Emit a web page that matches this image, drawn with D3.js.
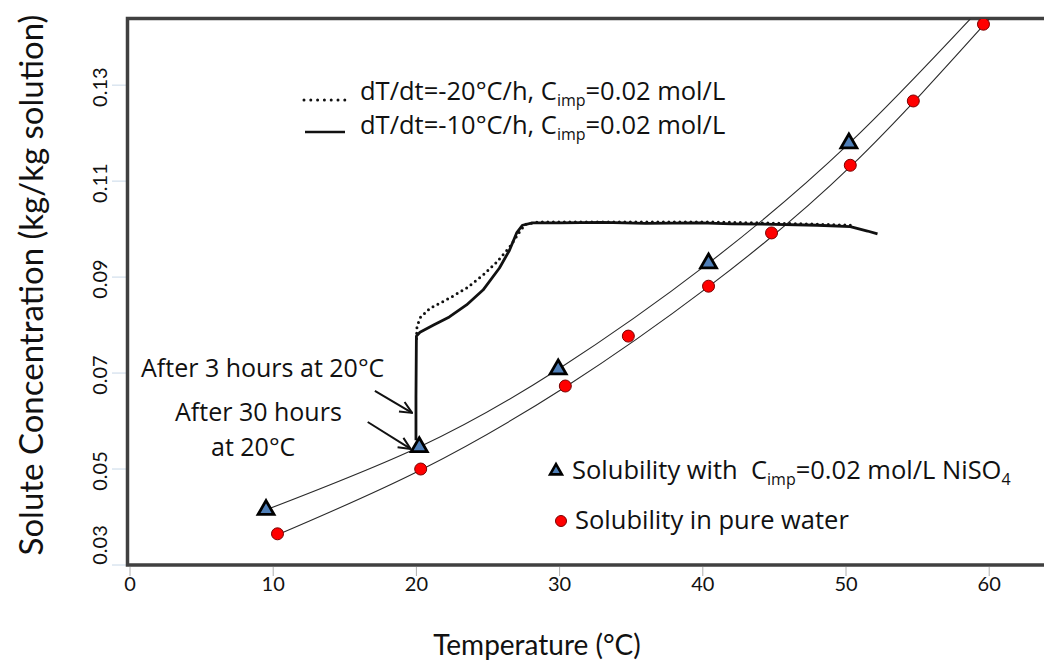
<!DOCTYPE html>
<html>
<head>
<meta charset="utf-8">
<script src="https://cdn.jsdelivr.net/npm/d3@7"></script>
<style>
  body { margin: 0; background: #fff; }
  svg { font-family: Lato, "Open Sans", sans-serif; }
  .os { font-family: "Open Sans", Lato, sans-serif; }
</style>
</head>
<body>
<main></main>
<script>
// axis ticks
const tempTicks = [0, 10, 20, 30, 40, 50, 60];
const concTicks = [0.03, 0.05, 0.07, 0.09, 0.11, 0.13];

// solubility in pure water (red circles)
const pureT = [10.3, 20.3, 30.4, 34.8, 40.4, 44.8, 50.3, 54.7, 59.6];
const pureC = [0.0365, 0.0500, 0.0673, 0.0777, 0.0881, 0.0992, 0.1133, 0.1267, 0.1427];

// solubility with Cimp = 0.02 mol/L NiSO4 (triangles)
const impT = [9.5, 20.2, 29.9, 40.4, 50.2];
const impC = [0.0417, 0.0548, 0.0710, 0.0931, 0.1181];

// fitted solubility curves
const fitImpT = [9.5, 20.2, 29.9, 40.4, 50.2, 58.9];
const fitImpC = [0.0415, 0.0546, 0.0708, 0.0929, 0.1178, 0.1445];
const fitPureT = [10.3, 20.3, 30.4, 40.4, 50.3, 60.3];
const fitPureC = [0.0363, 0.0498, 0.0671, 0.0880, 0.1130, 0.1448];

// concentration during cooling, -10 °C/h (solid)
const slowT = [52.2, 51.5, 50.3, 48, 45, 42, 39.8, 36, 33, 30.0, 28.1, 27.4, 27.0, 26.5, 25.8, 24.65, 23.5, 22.3, 21.2, 20.25, 20.0, 19.97, 19.97];
const slowC = [0.0990, 0.0996, 0.1005, 0.1008, 0.1010, 0.1011, 0.1013, 0.1012, 0.1014, 0.1013, 0.1013, 0.1008, 0.0992, 0.0956, 0.0919, 0.0873, 0.0842, 0.0817, 0.0800, 0.0785, 0.0777, 0.0650, 0.0560];

// concentration during cooling, -20 °C/h (dotted)
const fastT = [50.3, 47, 44, 39.8, 35, 31, 28.6, 27.6, 27.2, 26.5, 25.6, 24.65, 23.5, 22.3, 20.95, 20.25, 20.04, 20.0];
const fastC = [0.1008, 0.1011, 0.1013, 0.1015, 0.1015, 0.1015, 0.1015, 0.1010, 0.0994, 0.0962, 0.0931, 0.0904, 0.0877, 0.0856, 0.0835, 0.0815, 0.0796, 0.0770];

const w = 1044, h = 664;
const x = d3.scaleLinear().domain([0, 64]).range([130, 130 + 64 * 14.32]);
const y = d3.scaleLinear().domain([0.03, 0.1442]).range([565, 17]);

const svg = d3.select("main").append("svg")
  .attr("width", w)
  .attr("height", h);

svg.append("defs").append("clipPath").attr("id", "plot")
  .append("rect")
  .attr("x", 128).attr("y", 19)
  .attr("width", w - 128).attr("height", 545);

svg.select("defs").append("marker")
  .attr("id", "arrow")
  .attr("viewBox", "0 0 14 14")
  .attr("refX", 13).attr("refY", 7)
  .attr("markerWidth", 14).attr("markerHeight", 14)
  .attr("markerUnits", "userSpaceOnUse")
  .attr("orient", "auto")
  .append("path")
  .attr("d", "M1,1.5 L13,7 L1,12.5")
  .attr("fill", "none")
  .attr("stroke", "#111")
  .attr("stroke-width", 2);

// ticks
svg.append("g").selectAll("line")
  .data(tempTicks)
  .join("line")
  .attr("x1", d => x(d)).attr("x2", d => x(d))
  .attr("y1", 567).attr("y2", 576)
  .attr("stroke", "#b0b0b0");

svg.append("g").selectAll("line")
  .data(concTicks)
  .join("line")
  .attr("x1", 112).attr("x2", 126)
  .attr("y1", d => y(d)).attr("y2", d => y(d))
  .attr("stroke", "#c8d8e8");

svg.append("g").selectAll("text")
  .data(tempTicks)
  .join("text")
  .attr("x", d => x(d))
  .attr("y", 591)
  .attr("text-anchor", "middle")
  .style("font-size", "20px")
  .attr("fill", "#111")
  .text(d => d);

svg.append("g").selectAll("text")
  .data(concTicks)
  .join("text")
  .attr("transform", d => "translate(107," + Math.min(y(d) + 2, 545) + ") rotate(-90)")
  .attr("text-anchor", "middle")
  .style("font-size", "20px")
  .attr("fill", "#111")
  .text(d => d.toFixed(2));

// frame
svg.append("path")
  .attr("d", "M" + w + ",18.5 H127.5 V565 H" + w)
  .attr("fill", "none")
  .attr("stroke", "#404040")
  .attr("stroke-width", 3.5);

// plotted content
const plot = svg.append("g").attr("clip-path", "url(#plot)");

const line = d3.line()
  .x(d => x(d[0]))
  .y(d => y(d[1]));
const smooth = d3.line()
  .x(d => x(d[0]))
  .y(d => y(d[1]))
  .curve(d3.curveNatural);

plot.append("path")
  .datum(d3.zip(fitImpT, fitImpC))
  .attr("d", smooth)
  .attr("fill", "none")
  .attr("stroke", "#2a2a2a")
  .attr("stroke-width", 1.1);

plot.append("path")
  .datum(d3.zip(fitPureT, fitPureC))
  .attr("d", smooth)
  .attr("fill", "none")
  .attr("stroke", "#2a2a2a")
  .attr("stroke-width", 1.1);

plot.append("path")
  .datum(d3.zip(fastT, fastC))
  .attr("d", line)
  .attr("fill", "none")
  .attr("stroke", "#111")
  .attr("stroke-width", 3)
  .attr("stroke-linecap", "round")
  .attr("stroke-dasharray", "0 5.5");

plot.append("path")
  .datum(d3.zip(slowT, slowC))
  .attr("d", line)
  .attr("fill", "none")
  .attr("stroke", "#111")
  .attr("stroke-width", 2.8)
  .attr("stroke-linejoin", "round");

const tri = d3.symbol().type(d3.symbolTriangle).size(110);

plot.append("g").selectAll("path")
  .data(d3.zip(impT, impC))
  .join("path")
  .attr("transform", d => "translate(" + x(d[0]) + "," + (y(d[1]) + 1) + ")")
  .attr("d", tri)
  .attr("fill", "#4f7fb8")
  .attr("stroke", "#000")
  .attr("stroke-width", 2.8)
  .attr("stroke-linejoin", "miter");

plot.append("g").selectAll("circle")
  .data(d3.zip(pureT, pureC))
  .join("circle")
  .attr("cx", d => x(d[0]))
  .attr("cy", d => y(d[1]))
  .attr("r", 6)
  .attr("fill", "#ff0000")
  .attr("stroke", "#7a0000")
  .attr("stroke-width", 1);

// annotations
const arrows = [
  [[17.1, 0.0663], [19.7, 0.0617]],
  [[16.6, 0.0598], [19.6, 0.0542]]
];
svg.append("g").selectAll("line")
  .data(arrows)
  .join("line")
  .attr("x1", d => x(d[0][0])).attr("y1", d => y(d[0][1]))
  .attr("x2", d => x(d[1][0])).attr("y2", d => y(d[1][1]))
  .attr("stroke", "#111")
  .attr("stroke-width", 2)
  .attr("marker-end", "url(#arrow)");

const notes = svg.append("g")
  .attr("class", "os")
  .style("font-size", "25px")
  .attr("fill", "#111");
notes.append("text").attr("x", 141).attr("y", 377).text("After 3 hours at 20°C");
notes.append("text").attr("x", 175).attr("y", 421).text("After 30 hours");
notes.append("text").attr("x", 211).attr("y", 456).text("at 20°C");

// legend, top
const leg = svg.append("g")
  .attr("class", "os")
  .style("font-size", "25.5px")
  .attr("fill", "#111");

leg.append("line")
  .attr("x1", 304).attr("x2", 345)
  .attr("y1", 100).attr("y2", 100)
  .attr("stroke", "#111")
  .attr("stroke-width", 3)
  .attr("stroke-linecap", "round")
  .attr("stroke-dasharray", "0 6.8");
leg.append("line")
  .attr("x1", 305).attr("x2", 345)
  .attr("y1", 132).attr("y2", 132)
  .attr("stroke", "#111")
  .attr("stroke-width", 2.6);

function impLabel(sel, before, after) {
  sel.append("tspan").text(before);
  sel.append("tspan").attr("dy", 6).style("font-size", "16px").text("imp");
  sel.append("tspan").attr("dy", -6).text(after);
}

impLabel(leg.append("text").attr("x", 360).attr("y", 100), "dT/dt=-20°C/h, C", "=0.02 mol/L");
impLabel(leg.append("text").attr("x", 360).attr("y", 134), "dT/dt=-10°C/h, C", "=0.02 mol/L");

// legend, bottom
const leg2 = svg.append("g")
  .attr("class", "os")
  .style("font-size", "25.5px")
  .attr("fill", "#111");

leg2.append("path")
  .attr("transform", "translate(556,471)")
  .attr("d", d3.symbol().type(d3.symbolTriangle).size(60))
  .attr("fill", "#4f7fb8")
  .attr("stroke", "#000")
  .attr("stroke-width", 2.6);
leg2.append("circle")
  .attr("cx", 561).attr("cy", 521).attr("r", 5.5)
  .attr("fill", "#ff0000")
  .attr("stroke", "#7a0000");

const t1 = leg2.append("text")
  .attr("x", 572).attr("y", 479)
  .attr("xml:space", "preserve");
impLabel(t1, "Solubility with\u00a0 C", "=0.02 mol/L NiSO");
t1.append("tspan").attr("dy", 6).style("font-size", "16px").text("4");

leg2.append("text").attr("x", 575).attr("y", 529).text("Solubility in pure water");

// axis titles
svg.append("text")
  .attr("x", 537)
  .attr("y", 655)
  .attr("text-anchor", "middle")
  .style("font-size", "28px")
  .attr("fill", "#111")
  .text("Temperature (°C)");

svg.append("text")
  .attr("transform", "translate(43,285) rotate(-90)")
  .attr("text-anchor", "middle")
  .style("font-size", "33px")
  .attr("fill", "#111")
  .text("Solute Concentration (kg/kg solution)");
</script>
</body>
</html>
